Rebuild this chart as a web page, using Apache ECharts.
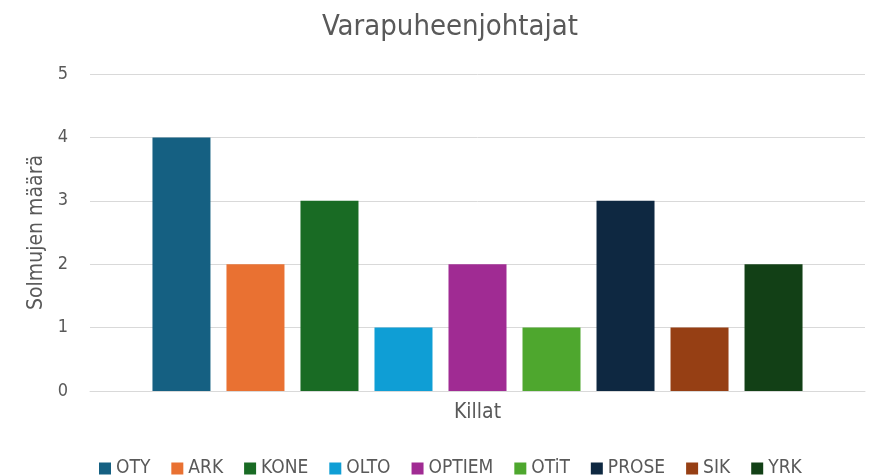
<!DOCTYPE html>
<html>
<head>
<meta charset="utf-8">
<script src="https://cdn.jsdelivr.net/npm/echarts@6/dist/echarts.min.js"></script>
<style>
  html, body { margin: 0; padding: 0; background: #fff; }
  #chart { width: 880px; height: 476px; }
</style>
</head>
<body>
<div id="chart"></div>
<script>
const kilat = ["OTY", "ARK", "KONE", "OLTO", "OPTIEM", "OTiT", "PROSE", "SIK", "YRK"];
const maarat = [4, 2, 3, 1, 2, 1, 3, 1, 2];
const varit = ["#156082", "#E97132", "#196B24", "#0F9ED5", "#A02B93", "#4EA72E", "#0E2841", "#963F14", "#124016"];
const yTicks = [0, 1, 2, 3, 4, 5];

const fontti = '"Liberation Sans Narrow", "DejaVu Sans Condensed", "Roboto", sans-serif';
const harmaa = "#595959";
const chart = echarts.init(document.getElementById("chart"));

chart.setOption({
  textStyle: { fontFamily: fontti },
  title: {
    text: "Varapuheenjohtajat",
    left: 317,
    top: 8,
    textStyle: { fontSize: 29, fontWeight: "normal", color: harmaa, fontFamily: fontti },
  },
  legend: {
    top: 454,
    left: 94,
    itemWidth: 12,
    itemHeight: 12,
    itemGap: 21,
    icon: "rect",
    textStyle: { fontSize: 19, color: harmaa, fontFamily: fontti, padding: [0, 0, 0, 0] },
    data: kilat,
  },
  grid: { left: 90, right: 15, top: 74, bottom: 85, containLabel: false },
  xAxis: {
    type: "category",
    data: [""],
    name: "Killat",
    nameLocation: "middle",
    nameGap: 11,
    nameTextStyle: { fontSize: 21, color: harmaa, fontFamily: fontti },
    axisLine: { show: true, lineStyle: { color: "#d9d9d9" } },
    axisTick: { show: false },
    axisLabel: { show: false },
  },
  yAxis: {
    type: "value",
    min: yTicks[0],
    max: yTicks[yTicks.length - 1],
    interval: 1,
    name: "Solmujen määrä",
    nameLocation: "middle",
    nameGap: 43,
    nameTextStyle: { fontSize: 21, color: harmaa, fontFamily: fontti },
    axisLabel: { fontSize: 18, color: harmaa, margin: 22, fontFamily: fontti },
    axisLine: { show: false },
    axisTick: { show: false },
    splitLine: { lineStyle: { color: "#d9d9d9" } },
  },
  series: kilat.map((k, i) => ({
    name: k,
    type: "bar",
    data: [maarat[i]],
    barWidth: 58,
    barGap: "27.6%",
    itemStyle: { color: varit[i] },
  })),
});
</script>
</body>
</html>
